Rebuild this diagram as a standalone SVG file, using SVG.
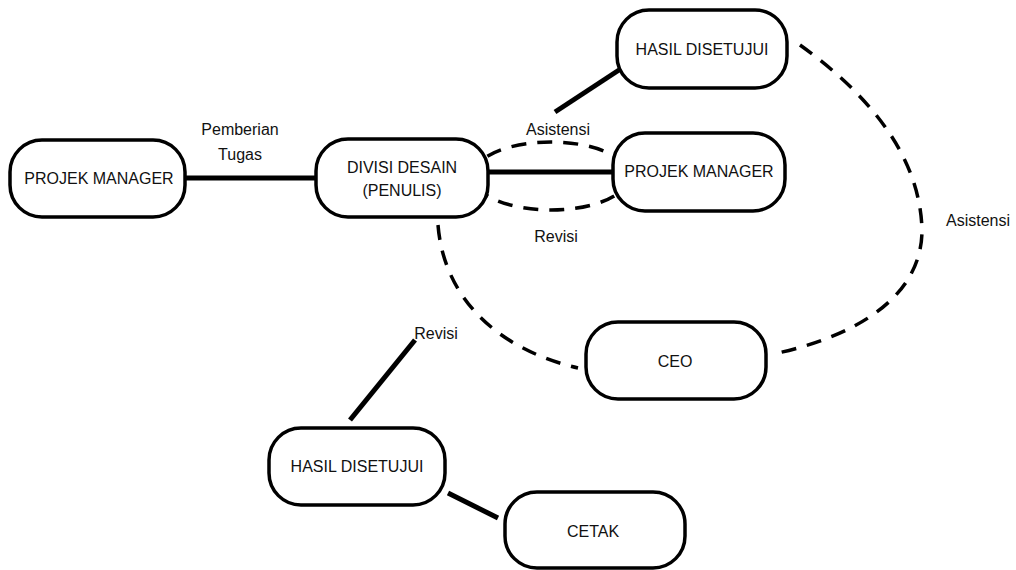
<svg xmlns="http://www.w3.org/2000/svg" width="1016" height="570" viewBox="0 0 1016 570">
<style>
.node rect{fill:#fff;stroke:#000;stroke-width:3.5}
text{font-family:"Liberation Sans",Arial,sans-serif;font-size:16px;fill:#111;text-anchor:middle}
.solid{stroke:#000;stroke-width:5;fill:none}
.dash{stroke:#000;stroke-width:3.5;fill:none;stroke-dasharray:15 11}
</style>
<rect width="1016" height="570" fill="#fff"/>
<g id="connectors">
<line class="solid" x1="185" y1="178" x2="316" y2="178"/>
<line class="solid" x1="488" y1="172" x2="613" y2="172"/>
<ellipse class="dash" cx="551" cy="176" rx="78" ry="34"/>
<line class="solid" x1="555" y1="112" x2="619" y2="70"/>
<path class="dash" d="M800,45 C860,88 920,150 922,230 C922,300 850,338 773,354"/>
<path class="dash" d="M438,225 C444,300 500,350 578,368"/>
<line class="solid" x1="350" y1="420" x2="415" y2="340"/>
<line class="solid" x1="448" y1="493" x2="498" y2="518"/>
<text x="240" y="135">Pemberian</text>
<text x="240" y="160">Tugas</text>
<text x="558" y="135">Asistensi</text>
<text x="556" y="242">Revisi</text>
<text x="978" y="226">Asistensi</text>
<text x="436" y="339">Revisi</text>
</g>
<g id="n1" class="node"><rect x="10" y="140" width="175" height="77" rx="32"/><text x="99" y="184">PROJEK MANAGER</text></g>
<g id="n2" class="node"><rect x="316" y="139" width="172" height="78" rx="32"/><text x="402" y="173">DIVISI DESAIN</text><text x="402" y="196">(PENULIS)</text></g>
<g id="n3" class="node"><rect x="617" y="10" width="170" height="78" rx="32"/><text x="702" y="55">HASIL DISETUJUI</text></g>
<g id="n4" class="node"><rect x="613" y="133" width="172" height="78" rx="32"/><text x="699" y="177">PROJEK MANAGER</text></g>
<g id="n5" class="node"><rect x="586" y="322" width="180" height="77" rx="32"/><text x="675" y="367">CEO</text></g>
<g id="n6" class="node"><rect x="269" y="428" width="176" height="77" rx="32"/><text x="357" y="472">HASIL DISETUJUI</text></g>
<g id="n7" class="node"><rect x="505" y="492" width="180" height="76" rx="32"/><text x="593" y="537">CETAK</text></g>
</svg>
